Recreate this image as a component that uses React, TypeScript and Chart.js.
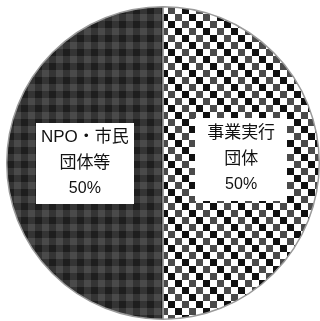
import React, { useEffect, useRef } from "react";
import { Chart, registerables } from "chart.js";

Chart.register(...registerables);

const categories = ["事業実行\n団体", "NPO・市民\n団体等"];
const values = [50, 50];
const percentLabels = ["50%", "50%"];

function makeChecker(): CanvasPattern | string {
  const c = document.createElement("canvas");
  const cell = 7;
  c.width = cell * 4;
  c.height = cell * 4;
  const g = c.getContext("2d");
  if (!g) return "#888";
  for (let i = 0; i < 4; i++) {
    for (let j = 0; j < 4; j++) {
      let col = "#ffffff";
      if ((i + j) % 2 === 1) {
        const d = (((i - j) % 4) + 4) % 4;
        col = d === 1 ? "#111111" : "#4a4a4a";
      }
      g.fillStyle = col;
      g.fillRect(i * cell, j * cell, cell, cell);
    }
  }
  return g.createPattern(c, "repeat") || "#888";
}

function makeGingham(): CanvasPattern | string {
  const c = document.createElement("canvas");
  const cell = 7;
  c.width = cell * 2;
  c.height = cell * 2;
  const g = c.getContext("2d");
  if (!g) return "#333";
  g.fillStyle = "#1e1e1e";
  g.fillRect(0, 0, cell * 2, cell * 2);
  g.fillStyle = "#343434";
  g.fillRect(0, 0, cell, cell * 2);
  g.fillRect(0, 0, cell * 2, cell);
  g.fillStyle = "#4a4a4a";
  g.fillRect(0, 0, cell, cell);
  return g.createPattern(c, "repeat") || "#333";
}

const labelBoxPlugin = {
  id: "labelBoxes",
  afterDatasetsDraw(chart: any, _args: any, opts: any) {
    const ctx = chart.ctx;
    const meta = chart.getDatasetMeta(0);
    meta.data.forEach((arc: any, idx: number) => {
      const p = arc.getProps(["x", "y", "startAngle", "endAngle", "outerRadius"], true);
      const mid = (p.startAngle + p.endAngle) / 2;
      const r = p.outerRadius * opts.radiusFraction;
      const cx = p.x + Math.cos(mid) * r;
      const cy = p.y + Math.sin(mid) * r + opts.dy[idx];
      const w = opts.boxW[idx];
      const h = opts.boxH[idx];
      ctx.save();
      ctx.fillStyle = "#ffffff";
      ctx.fillRect(Math.round(cx - w / 2), Math.round(cy - h / 2), w, h);
      const lines = String(chart.data.labels[idx]).split("\n").concat([percentLabels[idx]]);
      ctx.fillStyle = "#111111";
      ctx.textAlign = "center";
      ctx.textBaseline = "middle";
      const lh = opts.lineHeight;
      const top = cy - ((lines.length - 1) * lh) / 2;
      lines.forEach((ln: string, k: number) => {
        const isPct = k === lines.length - 1;
        ctx.font = (isPct ? "16px" : "17px") + ' "Liberation Sans", "Noto Sans CJK JP", sans-serif';
        ctx.fillText(ln, cx, top + k * lh);
      });
      ctx.restore();
    });
  },
};

export default function App() {
  const ref = useRef<HTMLCanvasElement | null>(null);
  useEffect(() => {
    if (!ref.current) return;
    const chart = new Chart(ref.current, {
      type: "pie",
      data: {
        labels: categories,
        datasets: [
          {
            data: values,
            backgroundColor: [makeChecker(), makeGingham()],
            borderColor: "#9a9a9a",
            borderWidth: 1.5,
          },
        ],
      },
      options: {
        responsive: false,
        animation: false,
        layout: { padding: { left: 6, right: 0, top: 6, bottom: 1 } },
        plugins: {
          legend: { display: false },
          tooltip: { enabled: false },
          labelBoxes: {
            radiusFraction: 0.5,
            dy: [-4, 0],
            boxW: [92, 98],
            boxH: [83, 81],
            lineHeight: 25.5,
          },
        } as any,
      },
      plugins: [labelBoxPlugin],
    });
    return () => chart.destroy();
  }, []);
  return (
    <div style={{ position: "fixed", left: 0, top: 0, width: 320, height: 321, background: "#fff" }}>
      <canvas ref={ref} width={320} height={321} style={{ display: "block", width: 320, height: 321 }} />
    </div>
  );
}
